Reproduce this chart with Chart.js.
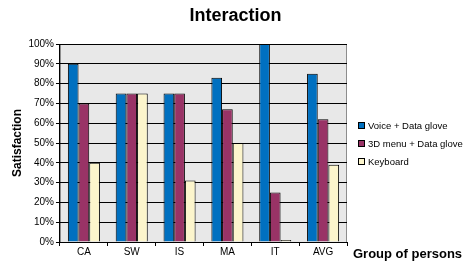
<!DOCTYPE html>
<html>
<head>
<meta charset="utf-8">
<script src="https://cdn.jsdelivr.net/npm/chart.js@4"></script>
<style>
  html, body { margin: 0; padding: 0; background: #fff; }
  #wrap { width: 471px; height: 266px; }
</style>
</head>
<body>
<div id="wrap"><canvas id="chart" width="471" height="266"></canvas></div>
<script>
const groups = ["CA", "SW", "IS", "MA", "IT", "AVG"];
const voiceGlove = [90, 75, 75, 83, 100, 85];
const menuGlove = [70, 75, 75, 67, 25, 62];
const keyboard = [40, 75, 31, 50, 1, 39];
const yTicks = [0, 10, 20, 30, 40, 50, 60, 70, 80, 90, 100];

const FONT = "'Liberation Sans', Arial, sans-serif";

// grey plot area, title over the whole canvas, legend on the right and the x title right of the axis
const plotBox = {
  id: 'plotBox',
  beforeDraw(chart) {
    const a = chart.chartArea, ctx = chart.ctx;
    ctx.save();
    ctx.fillStyle = '#e8e8e8';
    ctx.fillRect(a.left, a.top, a.right - a.left, a.bottom - a.top);
    ctx.strokeStyle = '#8c8c8c';
    ctx.lineWidth = 1;
    ctx.strokeRect(a.left + 0.5, a.top + 0.5, a.right - a.left - 1, a.bottom - a.top);
    ctx.restore();
  },
  afterDraw(chart) {
    const a = chart.chartArea, ctx = chart.ctx;
    ctx.save();
    ctx.fillStyle = '#000';
    ctx.textBaseline = 'middle';

    ctx.font = 'bold 18px ' + FONT;
    ctx.textAlign = 'center';
    ctx.fillText('Interaction', chart.width / 2, 16);

    ctx.textAlign = 'left';
    ctx.font = 'bold 13px ' + FONT;
    ctx.fillText('Group of persons', a.right + 6, a.bottom + 12);

    // legend
    const sets = chart.data.datasets;
    const mid = (a.top + a.bottom) / 2;
    ctx.font = '9.5px ' + FONT;
    sets.forEach((ds, i) => {
      const y = Math.round(mid + (i - 1) * 18);
      const x = a.right + 11;
      ctx.fillStyle = ds.backgroundColor;
      ctx.fillRect(x, y - 3, 7, 7);
      ctx.strokeStyle = '#000';
      ctx.strokeRect(x + 0.5, y - 2.5, 6, 6);
      ctx.fillStyle = '#000';
      ctx.fillText(ds.label, x + 10, y + 1);
    });
    ctx.restore();
  }
};

new Chart(document.getElementById('chart'), {
  type: 'bar',
  data: {
    labels: groups,
    datasets: [
      { label: 'Voice + Data glove', data: voiceGlove, backgroundColor: '#0070c0' },
      { label: '3D menu + Data glove', data: menuGlove, backgroundColor: '#993366' },
      { label: 'Keyboard', data: keyboard, backgroundColor: '#fcf5cc' }
    ]
  },
  options: {
    responsive: false,
    animation: false,
    layout: { padding: { left: 10, right: 124, top: 44, bottom: 8 } },
    datasets: {
      bar: { borderColor: '#000', borderWidth: 1, barPercentage: 1, categoryPercentage: 0.67 }
    },
    plugins: {
      title: { display: false },
      legend: { display: false },
      tooltip: { enabled: false }
    },
    scales: {
      x: {
        grid: { display: true, offset: true, drawOnChartArea: false, color: '#000', tickLength: 4 },
        border: { color: '#000' },
        ticks: { color: '#000', font: { family: FONT, size: 10 }, padding: 0 },
        title: { display: false }
      },
      y: {
        min: 0,
        max: 100,
        afterBuildTicks(axis) { axis.ticks = yTicks.map(v => ({ value: v })); },
        grid: { color: '#000', tickLength: 4 },
        border: { color: '#000' },
        ticks: { color: '#000', font: { family: FONT, size: 10 }, padding: 2, callback: v => v + '%' },
        title: {
          display: true,
          text: 'Satisfaction',
          color: '#000',
          font: { family: FONT, size: 12, weight: 'bold' },
          padding: { top: 0, bottom: 2 }
        }
      }
    }
  },
  plugins: [plotBox]
});
</script>
</body>
</html>
